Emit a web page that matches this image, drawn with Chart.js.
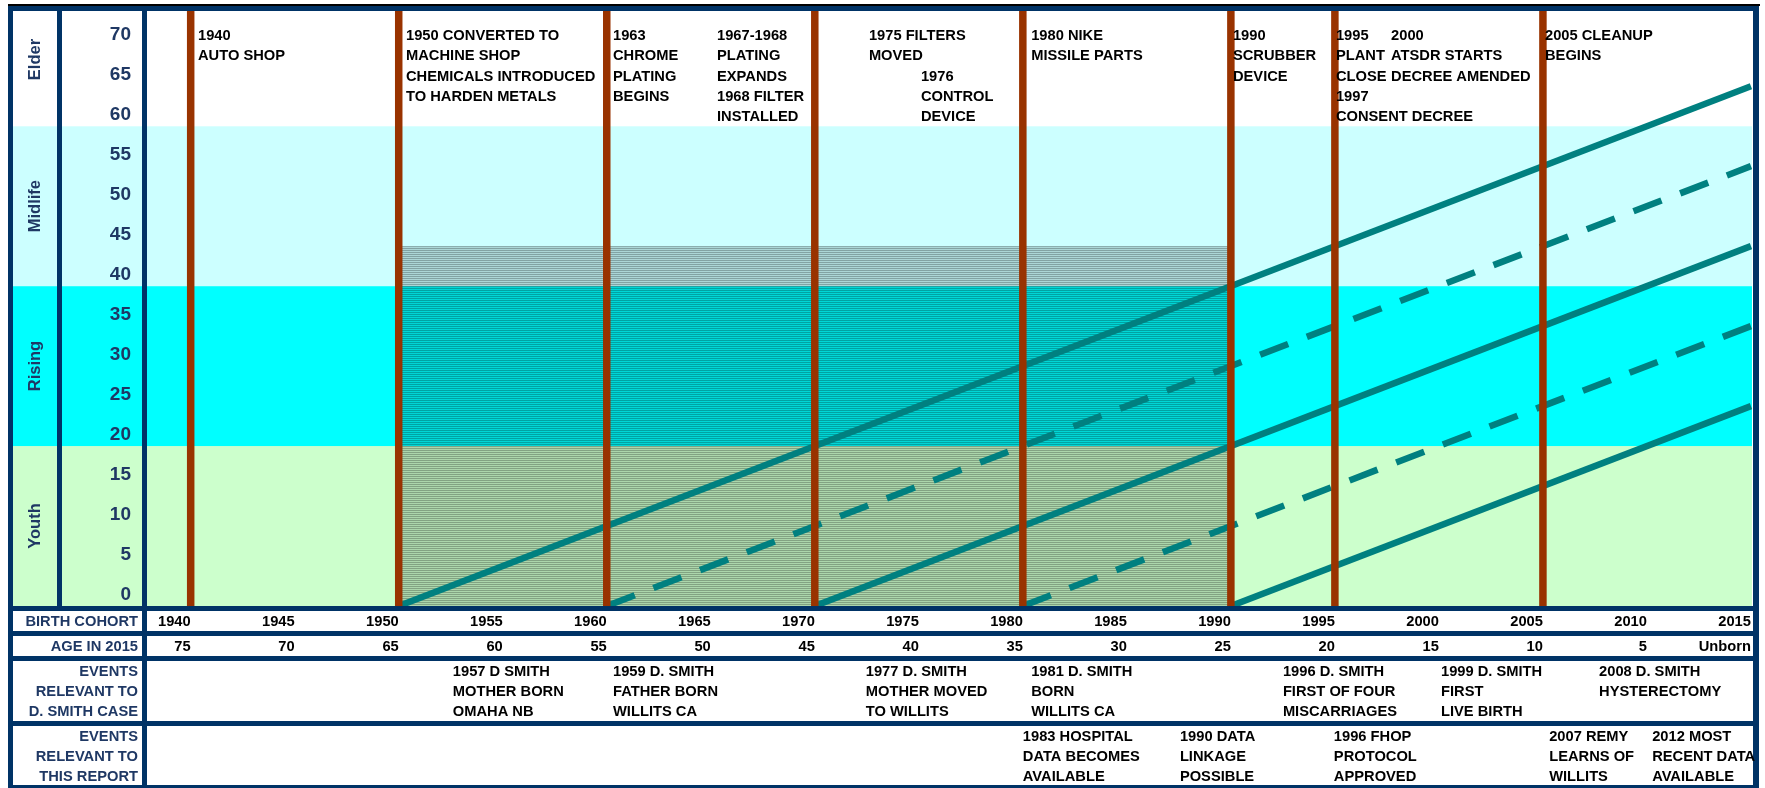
<!DOCTYPE html>
<html>
<head>
<meta charset="utf-8">
<script src="https://cdn.jsdelivr.net/npm/chart.js@4.4.1/dist/chart.umd.min.js"></script>
<style>
  body { margin: 0; background: #fff; }
  #timeline { display: block; }
</style>
</head>
<body>
<canvas id="timeline" width="1765" height="788"></canvas>
<script>
// --- data ---
var refYear = 2015;
var ageTicks = [0, 5, 10, 15, 20, 25, 30, 35, 40, 45, 50, 55, 60, 65, 70];
var cohortTicks = [1940, 1945, 1950, 1955, 1960, 1965, 1970, 1975, 1980, 1985, 1990, 1995, 2000, 2005, 2010, 2015];
var ageIn2015 = ['75', '70', '65', '60', '55', '50', '45', '40', '35', '30', '25', '20', '15', '10', '5', 'Unborn'];

var stageNames = ['Youth', 'Rising', 'Midlife', 'Elder'];
var stageFrom = [0, 20, 40, 60];
var stageTo = [20, 40, 60, 80];
var stageColors = ['#CCFFCC', '#00FFFF', '#CCFFFF', '#FFFFFF'];

var plantYears = [1940, 1950, 1960, 1970, 1980, 1990, 1995, 2005];
var cohorts = [1950, 1960, 1970, 1980, 1990];
var cohortDashed = [false, true, false, true, false];

var exposureYears = [1950, 1990];
var exposureAges = [0, 45];

var plantText = [
    '1940\nAUTO SHOP',
    '1950 CONVERTED TO\nMACHINE SHOP\nCHEMICALS INTRODUCED\nTO HARDEN METALS',
    '1963\nCHROME\nPLATING\nBEGINS',
    '1967-1968\nPLATING\nEXPANDS\n1968 FILTER\nINSTALLED',
    '1975 FILTERS\nMOVED',
    '1976\nCONTROL\nDEVICE',
    '1980 NIKE\nMISSILE PARTS',
    '1990\nSCRUBBER\nDEVICE',
    '1995\nPLANT\nCLOSE\n1997\nCONSENT DECREE',
    '2000\nATSDR STARTS\nDECREE AMENDED',
    '2005 CLEANUP\nBEGINS'
];
var plantAnchor = [1940.35, 1950.35, 1960.3, 1965.3, 1972.6, 1975.1, 1980.4, 1990.1, 1995.05, 1997.7, 2005.1];
var plantRow = [0, 0, 0, 0, 0, 2, 0, 0, 0, 0, 0];

var caseText = [
    '1957 D SMITH\nMOTHER BORN\nOMAHA NB',
    '1959 D. SMITH\nFATHER BORN\nWILLITS CA',
    '1977 D. SMITH\nMOTHER MOVED\nTO WILLITS',
    '1981 D. SMITH\nBORN\nWILLITS CA',
    '1996 D. SMITH\nFIRST OF FOUR\nMISCARRIAGES',
    '1999 D. SMITH\nFIRST\nLIVE BIRTH',
    '2008 D. SMITH\nHYSTERECTOMY'
];
var caseAnchor = [1952.6, 1960.3, 1972.45, 1980.4, 1992.5, 2000.1, 2007.7];

var reportText = [
    '1983 HOSPITAL\nDATA BECOMES\nAVAILABLE',
    '1990 DATA\nLINKAGE\nPOSSIBLE',
    '1996 FHOP\nPROTOCOL\nAPPROVED',
    '2007 REMY\nLEARNS OF\nWILLITS',
    '2012 MOST\nRECENT DATA\nAVAILABLE'
];
var reportAnchor = [1980.0, 1987.55, 1994.95, 2005.3, 2010.25];

var rowHeaders = ['BIRTH COHORT', 'AGE IN 2015', 'EVENTS\nRELEVANT TO\nD. SMITH CASE', 'EVENTS\nRELEVANT TO\nTHIS REPORT'];

// --- styles ---
var NAVY = '#003366';
var NAVY_TEXT = '#1F3864';
var FONT = '"Liberation Sans", Arial, sans-serif';
var xMin = 1937.9, xMax = 2015.05, yMax = 74.4;

function drawLines(ctx, text, x, y, lh) {
    text.split('\n').forEach(function (t, i) {
        ctx.fillText(t, x, y + i * lh);
    });
}

function stageBounds(ys, area, i) {
    var top = Math.max(ys.getPixelForValue(stageTo[i]), area.top);
    var bot = Math.min(ys.getPixelForValue(stageFrom[i]), area.bottom);
    return [top, bot];
}

var framePlugin = {
    id: 'frame',
    beforeDraw: function (chart) {
        var ctx = chart.ctx, area = chart.chartArea;
        var xs = chart.scales.x, ys = chart.scales.y;
        ctx.save();
        ctx.fillStyle = '#fff';
        ctx.fillRect(0, 0, chart.width, chart.height);

        // life stage bands, also behind the two label columns
        for (var i = 0; i < stageNames.length; i++) {
            var tb = stageBounds(ys, area, i);
            ctx.fillStyle = stageColors[i];
            ctx.fillRect(13, tb[0], area.right - 13, tb[1] - tb[0]);
        }

        // hatched exposure window
        var pc = document.createElement('canvas');
        pc.width = 4; pc.height = 2;
        var pg = pc.getContext('2d');
        pg.fillStyle = 'rgba(0,0,0,0.36)'; pg.fillRect(0, 0, 4, 1);
        pg.fillStyle = 'rgba(0,0,0,0.16)'; pg.fillRect(0, 1, 4, 1);
        var x0 = xs.getPixelForValue(exposureYears[0]), x1 = xs.getPixelForValue(exposureYears[1]);
        var y0 = ys.getPixelForValue(exposureAges[1]), y1 = ys.getPixelForValue(exposureAges[0]);
        ctx.fillStyle = ctx.createPattern(pc, 'repeat');
        ctx.fillRect(x0, y0, x1 - x0, y1 - y0);
        ctx.restore();
    },
    afterDraw: function (chart) {
        var ctx = chart.ctx, area = chart.chartArea;
        var xs = chart.scales.x, ys = chart.scales.y;
        var W = 1759;
        ctx.save();

        // table frame
        ctx.fillStyle = '#000';
        ctx.fillRect(8, 4, W - 8 + 1, 2);
        ctx.fillStyle = NAVY;
        ctx.fillRect(8, 6, W - 8, 5);
        ctx.fillRect(8, 6, 5, 782);
        ctx.fillRect(W - 6, 6, 6, 782);
        ctx.fillRect(57, 11, 5, area.bottom - 11);
        ctx.fillRect(142, 11, 5, 777);
        [606, 631, 656, 721].forEach(function (y) { ctx.fillRect(8, y, W - 8, 5); });
        ctx.fillRect(8, 785, W - 8, 3);

        // stage labels
        ctx.fillStyle = NAVY_TEXT;
        ctx.font = 'bold 16.5px ' + FONT;
        ctx.textAlign = 'center';
        ctx.textBaseline = 'middle';
        for (var i = 0; i < stageNames.length; i++) {
            var tb = stageBounds(ys, area, i);
            ctx.save();
            ctx.translate(35, (tb[0] + tb[1]) / 2 - (i === 3 ? 9 : 0));
            ctx.rotate(-Math.PI / 2);
            ctx.fillText(stageNames[i], 0, 0);
            ctx.restore();
        }

        // row headers
        ctx.font = 'bold 14.7px ' + FONT;
        ctx.textAlign = 'right';
        var headerY = [622, 647, 672, 737];
        rowHeaders.forEach(function (t, k) { drawLines(ctx, t, 138, headerY[k], 20); });

        // event texts
        ctx.fillStyle = '#000';
        ctx.textAlign = 'left';
        plantText.forEach(function (t, k) {
            drawLines(ctx, t, xs.getPixelForValue(plantAnchor[k]), 36 + plantRow[k] * 20.3, 20.3);
        });
        caseText.forEach(function (t, k) {
            drawLines(ctx, t, xs.getPixelForValue(caseAnchor[k]), 672, 20);
        });
        reportText.forEach(function (t, k) {
            drawLines(ctx, t, xs.getPixelForValue(reportAnchor[k]), 737, 20);
        });
        ctx.restore();
    }
};

var datasets = [];
plantYears.forEach(function (yr) {
    datasets.push({
        data: [{ x: yr, y: 0 }, { x: yr, y: yMax }],
        borderColor: '#993300',
        borderWidth: 7.5,
        borderCapStyle: 'butt',
        pointRadius: 0
    });
});
cohorts.forEach(function (c, i) {
    datasets.push({
        data: [{ x: c, y: 0 }, { x: refYear, y: refYear - c }],
        borderColor: '#008080',
        borderWidth: 6.5,
        borderCapStyle: 'butt',
        borderDash: cohortDashed[i] ? [30, 20] : [],
        pointRadius: 0
    });
});

var tickFont = { family: FONT, size: 14.7, weight: 'bold' };

function fixHeight(s) {
    s.height = 25;
    s.paddingLeft = 0;
    s.paddingRight = 0;
}

var ctx = document.getElementById('timeline').getContext('2d');
var timelineChart = new Chart(ctx, {
    type: 'line',
    data: { datasets: datasets },
    options: {
        responsive: false,
        animation: false,
        devicePixelRatio: 1,
        events: [],
        layout: { autoPadding: false, padding: { left: 0, right: 13, top: 11, bottom: 132 } },
        plugins: { legend: { display: false }, tooltip: { enabled: false } },
        scales: {
            x: {
                type: 'linear', position: 'bottom', min: xMin, max: xMax,
                grid: { display: false, drawTicks: false }, border: { display: false },
                afterFit: fixHeight,
                afterBuildTicks: function (s) { s.ticks = cohortTicks.map(function (v) { return { value: v }; }); },
                ticks: {
                    align: 'end', padding: 7, autoSkip: false, maxRotation: 0, minRotation: 0,
                    color: '#000', font: tickFont,
                    callback: function (v) { return String(v); }
                }
            },
            age: {
                type: 'linear', position: 'bottom', min: xMin, max: xMax,
                grid: { display: false, drawTicks: false }, border: { display: false },
                afterFit: fixHeight,
                afterBuildTicks: function (s) { s.ticks = cohortTicks.map(function (v) { return { value: v }; }); },
                ticks: {
                    align: 'end', padding: 7, autoSkip: false, maxRotation: 0, minRotation: 0,
                    color: '#000', font: tickFont,
                    callback: function (v, i) { return ageIn2015[i]; }
                }
            },
            y: {
                type: 'linear', position: 'left', min: 0, max: yMax,
                grid: { display: false, drawTicks: false }, border: { display: false },
                afterFit: function (s) {
                    s.width = 147;
                    s.paddingTop = 0;
                    s.paddingBottom = 0;
                },
                afterBuildTicks: function (s) { s.ticks = ageTicks.map(function (v) { return { value: v }; }); },
                ticks: {
                    padding: 16, labelOffset: -11, color: NAVY_TEXT,
                    font: { family: FONT, size: 19, weight: 'bold' }
                }
            }
        }
    },
    plugins: [framePlugin]
});
</script>
</body>
</html>
